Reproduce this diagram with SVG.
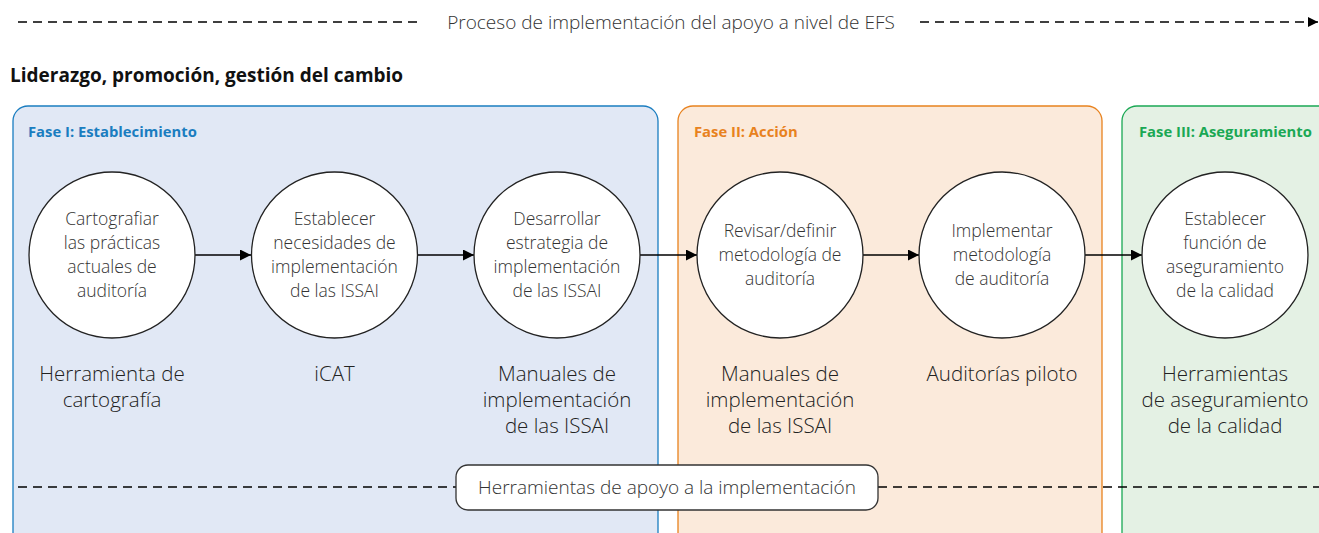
<svg xmlns="http://www.w3.org/2000/svg" width="1319" height="533" viewBox="0 0 1319 533">
<defs>
<marker id="ah" viewBox="0 0 10 10" refX="10" refY="5" markerWidth="16" markerHeight="11" markerUnits="userSpaceOnUse" orient="auto"><path d="M0,0 L10,5 L0,10 z" fill="#000"/></marker>
<marker id="ah2" viewBox="0 0 10 10" refX="10" refY="5" markerWidth="13" markerHeight="10" markerUnits="userSpaceOnUse" orient="auto"><path d="M0,0 L10,5 L0,10 z" fill="#000"/></marker>
</defs>
<style>
.t{font-family:"Open Sans","Liberation Sans",sans-serif;font-weight:300;fill:#333;}
.c{font-size:17.5px;text-anchor:middle;}
.lab{font-size:20.5px;text-anchor:middle;fill:#222;}
.ph{font-family:"Open Sans","Liberation Sans",sans-serif;font-weight:700;font-size:14.8px;}
.node{fill:#fff;stroke:#222;stroke-width:1.3;}
.dash{stroke:#000;stroke-width:1.3;stroke-dasharray:9,6;fill:none;}
.arr{stroke:#000;stroke-width:1.3;fill:none;marker-end:url(#ah);}
</style>
<rect width="1319" height="533" fill="#fff"/>
<g id="header">
<line class="dash" x1="18" y1="22" x2="422" y2="22"/>
<text class="t" x="671" y="29" font-size="19" text-anchor="middle" fill="#444">Proceso de implementación del apoyo a nivel de EFS</text>
<line class="dash" x1="920" y1="22" x2="1318" y2="22" marker-end="url(#ah2)"/>
<text x="10" y="82" font-family="Open Sans, Liberation Sans, sans-serif" font-weight="700" font-size="19" fill="#111">Liderazgo, promoción, gestión del cambio</text>
</g>
<g id="phase1">
<rect x="13" y="106" width="645" height="450" rx="15" fill="#e1e8f5" stroke="#1a7dc0" stroke-width="1.3"/>
<text class="ph" x="28" y="137" fill="#1a7dc0">Fase I: Establecimiento</text>
</g>
<g id="phase2">
<rect x="678" y="106" width="424" height="450" rx="15" fill="#fbeadb" stroke="#e8821e" stroke-width="1.3"/>
<text class="ph" x="694" y="137" fill="#e8821e">Fase II: Acción</text>
</g>
<g id="phase3">
<rect x="1122" y="106" width="230" height="450" rx="15" fill="#e4f1e4" stroke="#1aa854" stroke-width="1.3"/>
<text class="ph" x="1139" y="137" fill="#1aa854">Fase III: Aseguramiento</text>
</g>
<g id="connectors">
<line class="arr" x1="195" y1="255" x2="251" y2="255"/>
<line class="arr" x1="418" y1="255" x2="474" y2="255"/>
<line class="arr" x1="640" y1="255" x2="697" y2="255"/>
<line class="arr" x1="863" y1="255" x2="919" y2="255"/>
<line class="arr" x1="1085" y1="255" x2="1142" y2="255"/>
<line class="dash" x1="18" y1="487" x2="456" y2="487"/>
<line class="dash" x1="878" y1="487" x2="1319" y2="487"/>
</g>
<g id="n1">
<circle class="node" cx="112" cy="255" r="83"/>
<text class="t c"><tspan x="112" y="225">Cartografiar</tspan><tspan x="112" y="249">las prácticas</tspan><tspan x="112" y="273">actuales de</tspan><tspan x="112" y="297">auditoría</tspan></text>
<text class="t lab"><tspan x="112" y="381">Herramienta de</tspan><tspan x="112" y="407">cartografía</tspan></text>
</g>
<g id="n2">
<circle class="node" cx="334.5" cy="255" r="83"/>
<text class="t c"><tspan x="334.5" y="225">Establecer</tspan><tspan x="334.5" y="249">necesidades de</tspan><tspan x="334.5" y="273">implementación</tspan><tspan x="334.5" y="297">de las ISSAI</tspan></text>
<text class="t lab"><tspan x="334.5" y="381">iCAT</tspan></text>
</g>
<g id="n3">
<circle class="node" cx="557" cy="255" r="83"/>
<text class="t c"><tspan x="557" y="225">Desarrollar</tspan><tspan x="557" y="249">estrategia de</tspan><tspan x="557" y="273">implementación</tspan><tspan x="557" y="297">de las ISSAI</tspan></text>
<text class="t lab"><tspan x="557" y="381">Manuales de</tspan><tspan x="557" y="407">implementación</tspan><tspan x="557" y="433">de las ISSAI</tspan></text>
</g>
<g id="n4">
<circle class="node" cx="780" cy="255" r="83"/>
<text class="t c"><tspan x="780" y="237">Revisar/definir</tspan><tspan x="780" y="261">metodología de</tspan><tspan x="780" y="285">auditoría</tspan></text>
<text class="t lab"><tspan x="780" y="381">Manuales de</tspan><tspan x="780" y="407">implementación</tspan><tspan x="780" y="433">de las ISSAI</tspan></text>
</g>
<g id="n5">
<circle class="node" cx="1002" cy="255" r="83"/>
<text class="t c"><tspan x="1002" y="237">Implementar</tspan><tspan x="1002" y="261">metodología</tspan><tspan x="1002" y="285">de auditoría</tspan></text>
<text class="t lab"><tspan x="1002" y="381">Auditorías piloto</tspan></text>
</g>
<g id="n6">
<circle class="node" cx="1225" cy="255" r="83"/>
<text class="t c"><tspan x="1225" y="225">Establecer</tspan><tspan x="1225" y="249">función de</tspan><tspan x="1225" y="273">aseguramiento</tspan><tspan x="1225" y="297">de la calidad</tspan></text>
<text class="t lab"><tspan x="1225" y="381">Herramientas</tspan><tspan x="1225" y="407">de aseguramiento</tspan><tspan x="1225" y="433">de la calidad</tspan></text>
</g>
<g id="tools">
<rect x="456" y="465" width="422" height="45" rx="12" fill="#fff" stroke="#333" stroke-width="1.3"/>
<text class="t" x="667" y="494" font-size="19" text-anchor="middle">Herramientas de apoyo a la implementación</text>
</g>
</svg>
